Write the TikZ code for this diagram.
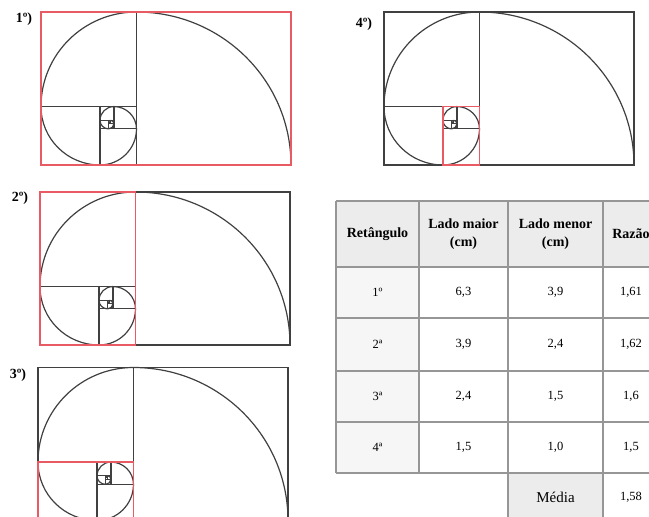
\documentclass[tikz,border=0pt]{standalone}
\usepackage{fontspec}
\setmainfont{Liberation Serif}
\definecolor{spiralred}{RGB}{232,90,100}
\definecolor{gridgray}{RGB}{150,150,150}
\definecolor{headgray}{RGB}{236,236,236}
\definecolor{colgray}{RGB}{246,246,246}
\tikzset{
    sqline/.style={draw=black!75, line width=1.2pt},
    redline/.style={draw=spiralred, line width=1.4pt},
    gridline/.style={draw=gridgray, line width=1.1pt},
    panellabel/.style={font=\bfseries\fontsize{14}{16}\selectfont},
    headtext/.style={font=\bfseries\fontsize{14}{18}\selectfont, align=center},
    celltext/.style={font=\fontsize{12.5}{14}\selectfont},
}
% squares and quarter arcs of one golden rectangle (height 1)
\newcommand{\goldpanel}{%
    \foreach \cx/\cy/\a/\s in {0.618034/0/0/1, 0.618034/0.381966/90/0.618034,
        0.381966/0.381966/180/0.381966, 0.381966/0.236068/270/0.236068,
        0.472136/0.236068/0/0.145898, 0.472136/0.291796/90/0.090170,
        0.437694/0.291796/180/0.055728, 0.437694/0.270510/270/0.034442,
        0.450850/0.270510/0/0.021286, 0.450850/0.278640/90/0.013156}{
        \draw[sqline] (\cx,\cy) rectangle ++(\a+45:1.41421*\s);
        \draw[sqline] ([shift={(\a:\s)}]\cx,\cy) arc[start angle=\a, delta angle=90, radius=\s];
    }}

\begin{document}
\begin{tikzpicture}[x=1pt, y=1pt]
    \useasboundingbox (0,0) rectangle (649,517);
    \clip (0,0) rectangle (649,517);

    % labels
    \node[panellabel] (lbl1) at (24,498) {1º)};
    \node[panellabel] (lbl2) at (20,319) {2º)};
    \node[panellabel] (lbl3) at (18,142) {3º)};
    \node[panellabel] (lbl4) at (364,493) {4º)};

    % 1st rectangle
    \begin{scope}[shift={(41,352)}, x=154.5pt, y=153pt]
        \goldpanel
        \draw[redline] (0,0) rectangle (1.618034,1);
    \end{scope}
    % 2nd rectangle
    \begin{scope}[shift={(40,172)}, x=154.5pt, y=153pt]
        \goldpanel
        \draw[redline] (0,0) rectangle (0.618034,1);
    \end{scope}
    % 3rd rectangle
    \begin{scope}[shift={(38,-3.5)}, x=154.5pt, y=153pt]
        \goldpanel
        \draw[redline] (0,0) rectangle (0.618034,0.381966);
    \end{scope}
    % 4th rectangle
    \begin{scope}[shift={(384,352)}, x=154.5pt, y=153pt]
        \goldpanel
        \draw[redline] (0.381966,0) rectangle (0.618034,0.381966);
    \end{scope}

    % table
    \fill[headgray] (336,250) rectangle (700,316);
    \fill[colgray] (336,44) rectangle (419,250);
    \fill[headgray] (508,-5) rectangle (603,44);
    \foreach \y in {316,250,199,146,95,44}
        \draw[gridline] (336,\y) -- (700,\y);
    \foreach \x in {336,419,508,603}
        \draw[gridline] (\x,44) -- (\x,316);
    \draw[gridline] (508,-5) -- (508,44);
    \draw[gridline] (603,-5) -- (603,44);

    \node[headtext] (hRet) at (377.5,283) {Retângulo};
    \node[headtext] (hMaior) at (463.5,283) {Lado maior\\(cm)};
    \node[headtext] (hMenor) at (555.5,283) {Lado menor\\(cm)};
    \node[headtext] (hRazao) at (631,283) {Razão};

    \foreach \ord/\maior/\menor/\razao/\y [count=\i] in
        {1º/6{,}3/3{,}9/1{,}61/224.5, 2ª/3{,}9/2{,}4/1{,}62/172.5,
         3ª/2{,}4/1{,}5/1{,}6/120.5, 4ª/1{,}5/1{,}0/1{,}5/69.5}{
        \node[celltext] (ord\i) at (377.5,\y) {\ord};
        \node[celltext] (maior\i) at (463.5,\y) {\maior};
        \node[celltext] (menor\i) at (555.5,\y) {\menor};
        \node[celltext] (razao\i) at (631,\y) {\razao};
    }
    \node[font=\fontsize{15}{17}\selectfont] (media) at (555.5,19.5) {Média};
    \node[celltext] (mediaval) at (631,19.5) {1,58};
\end{tikzpicture}
\end{document}
